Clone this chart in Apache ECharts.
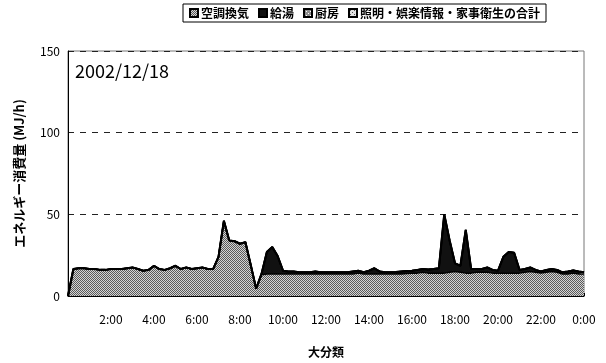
<!DOCTYPE html>
<html>
<head>
<meta charset="utf-8">
<script src="https://cdn.jsdelivr.net/npm/echarts@6/dist/echarts.min.js"></script>
<style>
  html, body { margin: 0; padding: 0; background: #fff; }
  #chart { width: 606px; height: 363px; }
</style>
</head>
<body>
<div id="chart"></div>
<script>
// 15-minute readings over one day, 0:00 .. 24:00 (97 points)
const times = [];
for (let h = 0; h <= 24; h++) {
  for (let m = 0; m < 60; m += 15) {
    if (h === 24 && m > 0) break;
    times.push(h + ':' + (m === 0 ? '00' : m));
  }
}
const tickLabels = ['2:00', '4:00', '6:00', '8:00', '10:00', '12:00', '14:00', '16:00', '18:00', '20:00', '22:00', '0:00'];

// 空調換気 (MJ/h)
const hvac = [
  0, 16.5, 17, 17, 16.5, 16.5, 16, 16,
  16.5, 16.5, 16.5, 17, 17.5, 16.5, 15.5, 16,
  18.5, 16.5, 16, 17, 18.5, 16.5, 17.5, 16.5,
  17, 17.5, 16.5, 16.5, 24, 46, 34, 33.5,
  32, 33, 19, 4.5, 13, 13.5, 13.5, 13.5,
  13.5, 13.5, 13.5, 13.5, 13.5, 13.5, 13.5, 13.5,
  13.5, 13.5, 13.5, 13.5, 13.5, 13.5, 14, 13.5,
  13.5, 13.5, 13.5, 13.5, 13.5, 13.5, 13.5, 13.8,
  14, 14, 14.5, 14, 14, 14, 14, 14.5,
  15, 14.5, 14, 14, 14.5, 14.5, 14.5, 14,
  14, 14, 14, 14, 14, 14.5, 15, 14.5,
  14, 14.5, 15, 14.5, 13.5, 13.5, 14, 13.5,
  13.5
];
// 給湯 (MJ/h)
const hotWater = [
  0, 0, 0, 0, 0, 0, 0, 0,
  0, 0, 0, 0, 0, 0, 0, 0,
  0, 0, 0, 0, 0, 0, 0, 0,
  0, 0, 0, 0, 0, 0, 0, 0,
  0, 0, 0, 0, 0.5, 13.5, 16.5, 11,
  2, 1.5, 1.5, 1, 1, 1, 1.5, 1,
  1, 1, 1, 1, 1, 1.5, 1.5, 1,
  2, 3.5, 1.5, 1, 1, 1.2, 1.5, 1.5,
  1.5, 2, 2, 2.2, 2.5, 3, 36, 19.5,
  5, 4, 26.5, 2.5, 2, 2, 3, 2,
  1.5, 10, 13, 12.5, 2, 2, 2.5, 1.5,
  1, 1.5, 1.5, 1.5, 1, 1.5, 1.7, 1.5,
  1
];
// 厨房 (MJ/h)
const kitchen = [
  0, 0, 0, 0, 0, 0, 0, 0, 0, 0, 0, 0, 0, 0, 0, 0,
  0, 0, 0, 0, 0, 0, 0, 0, 0, 0, 0, 0, 0, 0, 0, 0,
  0, 0, 0, 0, 0, 0, 0, 0, 0, 0, 0, 0, 0, 0, 0, 0,
  0, 0, 0, 0, 0, 0, 0, 0, 0, 0, 0, 0, 0, 0, 0, 0,
  0, 0, 0, 0, 0, 0, 0, 0, 0, 0, 0, 0, 0, 0, 0, 0,
  0, 0, 0, 0, 0, 0, 0, 0, 0, 0, 0, 0, 0, 0, 0, 0,
  0
];
// 照明・娯楽情報・家事衛生の合計 (MJ/h)
const lighting = [
  0, 0, 0, 0, 0, 0, 0, 0, 0, 0, 0, 0, 0, 0, 0, 0,
  0, 0, 0, 0, 0, 0, 0, 0, 0, 0, 0, 0, 0, 0, 0, 0,
  0, 0, 0, 0, 0, 0, 0, 0, 0, 0, 0, 0, 0, 0, 0, 0,
  0, 0, 0, 0, 0, 0, 0, 0, 0, 0, 0, 0, 0, 0, 0, 0,
  0, 0, 0, 0, 0, 0, 0, 0, 0, 0, 0, 0, 0, 0, 0, 0,
  0, 0, 0, 0, 0, 0, 0, 0, 0, 0, 0, 0, 0, 0, 0, 0,
  0
];

// Small dithered tiles used as hatch fills
function makePattern(bg, fg, cells) {
  const c = document.createElement('canvas');
  c.width = 4; c.height = 4;
  const g = c.getContext('2d');
  g.fillStyle = bg; g.fillRect(0, 0, 4, 4);
  g.fillStyle = fg;
  cells.forEach(p => g.fillRect(p[0], p[1], 1, 1));
  return { image: c, repeat: 'repeat' };
}
const dither = makePattern('#d4d4d4', '#5a5a5a',
  [[0, 0], [2, 0], [1, 1], [3, 1], [0, 2], [3, 3], [1, 3], [2, 2]]);
const kitchenFill = makePattern('#8e8e8e', '#ffffff', [[0, 0], [2, 2]]);
const lightFill = makePattern('#e0e0e0', '#555555', [[1, 1], [3, 3]]);

const font = '"Noto Sans CJK JP", "Noto Sans", sans-serif';

function areaSeries(name, data, fill, lineW) {
  return {
    name: name,
    type: 'line',
    stack: 'total',
    data: data,
    symbol: 'none',
    lineStyle: { color: '#000', width: lineW },
    itemStyle: { color: fill, borderColor: '#000', borderWidth: 1 },
    areaStyle: { color: fill, opacity: 1 }
  };
}

const chart = echarts.init(document.getElementById('chart'), null, { renderer: 'canvas' });
chart.setOption({
  animation: false,
  backgroundColor: '#fff',
  textStyle: { fontFamily: font },
  legend: {
    top: 4,
    left: 183,
    itemWidth: 8,
    itemHeight: 8,
    itemGap: 9,
    padding: [3, 6, 3, 6],
    borderColor: '#000',
    borderWidth: 1,
    icon: 'rect',
    textStyle: { fontSize: 12, fontWeight: 'bold', color: '#000', fontFamily: font, padding: [0, 0, 0, -2] },
    data: ['空調換気', '給湯', '厨房', '照明・娯楽情報・家事衛生の合計']
  },
  grid: {
    left: 68, right: 22, top: 51, bottom: 63,
    show: true, borderColor: '#777', borderWidth: 1, backgroundColor: '#fff'
  },
  graphic: [{
    type: 'text',
    left: 75, top: 62,
    style: { text: '2002/12/18', font: '18px ' + font, fill: '#000' }
  }],
  xAxis: {
    type: 'category',
    data: times,
    boundaryGap: false,
    name: '大分類',
    nameLocation: 'middle',
    nameGap: 50,
    nameTextStyle: { fontSize: 12, fontWeight: 'bold', color: '#000' },
    axisLine: { lineStyle: { color: '#000', width: 1 } },
    axisTick: { show: true, inside: true, length: 3, interval: (i) => i % 4 === 0, lineStyle: { color: '#000' } },
    axisLabel: {
      interval: (i) => i > 0 && i % 8 === 0,
      formatter: (v, i) => tickLabels[i / 8 - 1],
      fontSize: 12, color: '#000', margin: 17
    },
    splitLine: { show: false }
  },
  yAxis: {
    type: 'value',
    min: 0, max: 150, interval: 50,
    name: 'エネルギー消費量 (MJ/h)',
    nameLocation: 'middle',
    nameRotate: 90,
    nameGap: 42,
    nameTextStyle: { fontSize: 13, fontWeight: 'bold', color: '#000' },
    axisLine: { show: true, lineStyle: { color: '#000' } },
    axisTick: { show: false },
    axisLabel: { fontSize: 12, color: '#000', margin: 8 },
    splitLine: { show: true, lineStyle: { color: '#222', type: [6, 6], width: 1 } }
  },
  series: [
    areaSeries('空調換気', hvac, dither, 1.5),
    areaSeries('給湯', hotWater, '#111', 1.5),
    areaSeries('厨房', kitchen, kitchenFill, 2),
    areaSeries('照明・娯楽情報・家事衛生の合計', lighting, lightFill, 2)
  ]
});
</script>
</body>
</html>
